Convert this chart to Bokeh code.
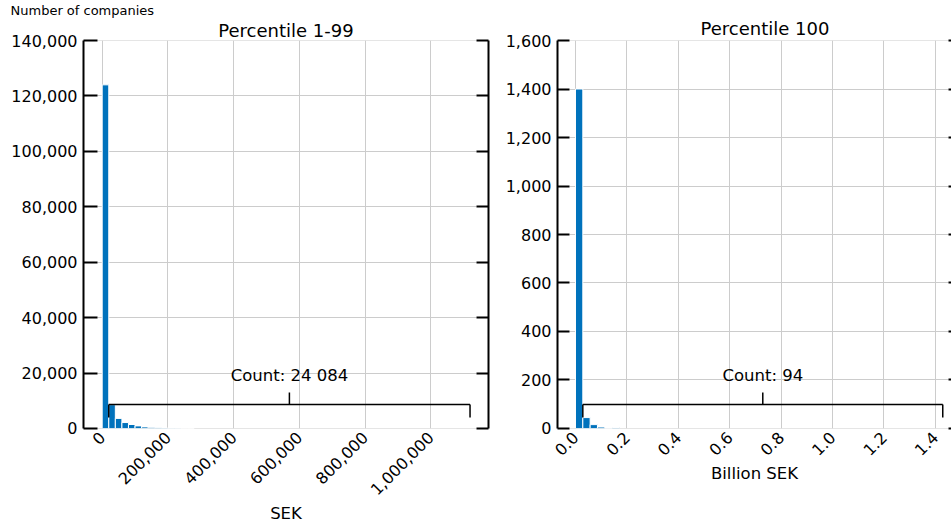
import math
from bokeh.plotting import figure
from bokeh.layouts import row
from bokeh.models import Range1d, LinearAxis, NumeralTickFormatter, FixedTicker, Title
from bokeh.core.properties import value
from bokeh.embed import file_html
from bokeh.resources import INLINE

# ---------------- data ----------------
main_label = "Number of companies"

# Panel 1: percentile 1-99 (SEK)
title_left = "Percentile 1-99"
xlabel_left = "SEK"
sek_bin_start = 0
sek_bin_width = 20000
counts_p1_99 = [124000, 8600, 3650, 2150, 1440, 940, 580, 420, 300, 140, 90, 60, 40, 25]
sek_max_value = 1119700
count_label_p1_99 = "Count: 24 084"
x_ticks_left = [0, 200000, 400000, 600000, 800000, 1000000]
y_ticks_left = [0, 20000, 40000, 60000, 80000, 100000, 120000, 140000]

# Panel 2: percentile 100 (billion SEK)
title_right = "Percentile 100"
xlabel_right = "Billion SEK"
bsek_bin_start = 0.0
bsek_bin_width = 0.0285
counts_p100 = [1400, 45, 16, 6, 1, 4]
bsek_max_value = 1.429
count_label_p100 = "Count: 94"
x_ticks_right = [0.0, 0.2, 0.4, 0.6, 0.8, 1.0, 1.2, 1.4]
y_ticks_right = [0, 200, 400, 600, 800, 1000, 1200, 1400, 1600]

# ---------------- style ----------------
BLUE = "#0072BC"
GRID = "#cccccc"
FONT = "DejaVu Sans"
H = 525
MB_TOP, MB_BOTTOM = 39, 97


def make_panel(width, mb_left, mb_right, x_start, x_end, area_start, area_end,
               y_max, x_ticks, y_ticks, x_fmt, xlabel,
               bin_start, bin_width, counts, max_value, count_label,
               right_tick_len, right_line, y_tick_len):
    p = figure(width=width, height=H,
               x_range=Range1d(x_start, x_end),
               y_range=Range1d(-y_max * 1e-5, y_max * (1 + 1e-5)),
               output_backend="svg", toolbar_location=None,
               min_border_left=mb_left, min_border_right=mb_right,
               min_border_top=MB_TOP, min_border_bottom=MB_BOTTOM)
    p.outline_line_color = None
    p.background_fill_color = "white"
    p.border_fill_color = "white"

    # grid
    p.xgrid.ticker = FixedTicker(ticks=x_ticks)
    p.ygrid.ticker = FixedTicker(ticks=y_ticks)
    for g in (p.xgrid, p.ygrid):
        g.grid_line_color = GRID
        g.grid_line_width = 1
    p.ygrid.cross_bounds = (area_start, area_end)

    # y axis (left spine, ticks pointing into the plot)
    ya = p.yaxis[0]
    ya.ticker = FixedTicker(ticks=y_ticks)
    ya.formatter = NumeralTickFormatter(format="0,0")
    ya.major_tick_in = y_tick_len
    ya.major_tick_out = 0
    ya.minor_tick_line_color = None
    ya.axis_line_width = 2
    ya.major_tick_line_width = 2
    ya.axis_line_color = "black"
    ya.major_label_standoff = 6
    ya.major_label_text_font = FONT
    ya.major_label_text_font_size = "16px"
    ya.major_label_text_color = "black"

    # x axis (no spine, rotated labels)
    xa = p.xaxis[0]
    xa.ticker = FixedTicker(ticks=x_ticks)
    xa.formatter = NumeralTickFormatter(format=x_fmt)
    xa.axis_line_color = None
    xa.major_tick_line_color = None
    xa.minor_tick_line_color = None
    xa.major_tick_in = 0
    xa.major_tick_out = 0
    xa.major_label_orientation = math.pi / 4
    xa.major_label_standoff = 6
    xa.major_label_text_font = FONT
    xa.major_label_text_font_size = "16px"
    xa.major_label_text_color = "black"
    xa.axis_label = xlabel
    xa.axis_label_standoff = 0
    xa.axis_label_text_font = FONT
    xa.axis_label_text_font_size = "16.5px"
    xa.axis_label_text_font_style = "normal"
    xa.axis_label_text_color = "black"

    # right spine / ticks (no labels)
    ra = LinearAxis(ticker=FixedTicker(ticks=y_ticks),
                    major_tick_in=right_tick_len, major_tick_out=0,
                    minor_tick_line_color=None,
                    axis_line_width=2, major_tick_line_width=2,
                    axis_line_color="black" if right_line else None,
                    major_label_text_color=None,
                    major_label_standoff=0)
    p.add_layout(ra, "right")

    # histogram bars
    lefts = [bin_start + i * bin_width for i in range(len(counts))]
    rights = [l + bin_width for l in lefts]
    p.quad(left=lefts, right=rights, bottom=0, top=counts,
           fill_color=BLUE, line_color="white", line_width=1)

    # bracket over the tail
    bx0 = bin_start + bin_width
    bx1 = max_value
    bxc = (bx0 + bx1) / 2
    yb = y_max * 0.0617
    yup = y_max * 0.093
    ydn = y_max * 0.0283
    p.segment(x0=[bx0, bx0, bx1, bxc], y0=[yb, yb, yb, yb],
              x1=[bx1, bx0, bx1, bxc], y1=[yb, ydn, ydn, yup],
              line_color="black", line_width=1.5)
    p.text(x=[bxc], y=[y_max * 0.136], text=[count_label],
           text_align="center", text_baseline="middle",
           text_font=value(FONT), text_font_size=value("16.5px"),
           text_color="black")
    return p


def style_title(t, text, align, offset, size, standoff):
    t.text = text
    t.align = align
    t.offset = offset
    t.text_font = FONT
    t.text_font_size = size
    t.text_font_style = "normal"
    t.text_color = "black"
    t.standoff = standoff


p1 = make_panel(495, 83, 7, -56920, 1175900, -14300, 1139400,
                140000, x_ticks_left, y_ticks_left, "0,0", xlabel_left,
                sek_bin_start, sek_bin_width, counts_p1_99, sek_max_value,
                count_label_p1_99, 12, True, 14)

p2 = make_panel(456, 62, 0, -0.0700, 1.463, -0.0234, 1.4513,
                1600, x_ticks_right, y_ticks_right, "0.0", xlabel_right,
                bsek_bin_start, bsek_bin_width, counts_p100, bsek_max_value,
                count_label_p100, 3, False, 12)

# left panel: outer title = overall label, inner title = panel title
style_title(p1.title, main_label, "left", -73, "13px", 0)
sub1 = Title()
style_title(sub1, title_left, "center", 0, "18px", 0)
p1.add_layout(sub1, "above")

style_title(p2.title, title_right, "left", 143, "18px", 3)

layout = row(p1, p2)
open("out.html", "w").write(file_html(layout, INLINE))
